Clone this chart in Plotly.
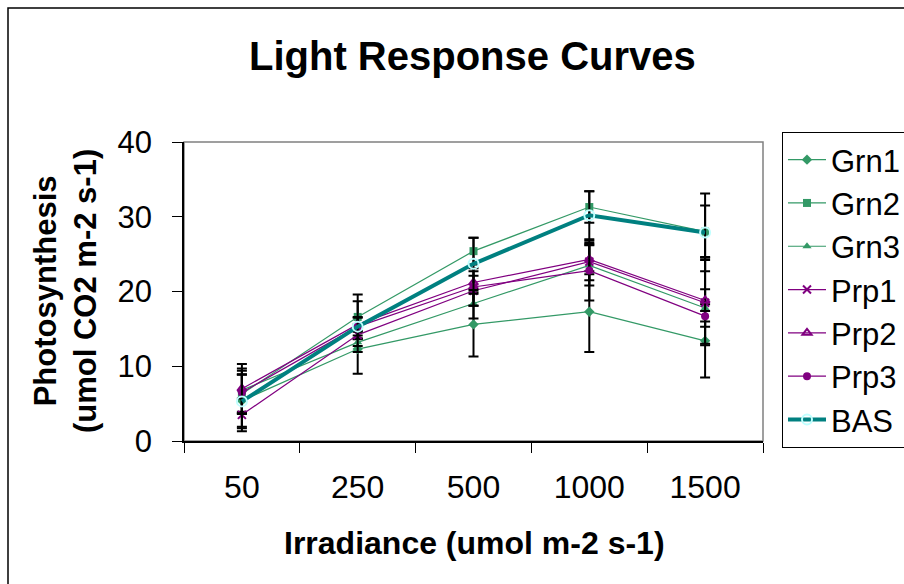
import plotly.graph_objects as go

categories = ["50", "250", "500", "1000", "1500"]

grn1 = [5.4, 12.3, 15.6, 17.3, 13.4]
grn2 = [6.3, 16.6, 25.4, 31.3, 28.0]
grn3 = [6.8, 13.2, 18.4, 23.5, 17.8]
prp1 = [3.5, 14.2, 20.1, 24.0, 18.5]
prp2 = [7.0, 15.6, 21.2, 24.3, 18.8]
prp3 = [6.5, 15.3, 20.6, 22.8, 16.7]
bas = [5.3, 15.3, 23.7, 30.2, 27.9]

grn1_err = [3.5, 3.3, 4.3, 5.4, 4.9]
grn2_err = [2.6, 3.0, 1.8, 2.1, 3.5]
grn3_err = [2.9, 0.5, 2.0, 2.7, 2.5]
prp1_err = [2.2, 0.5, 2.0, 2.5, 5.7]
prp2_err = [3.3, 1.0, 1.5, 2.0, 5.8]
prp3_err = [2.9, 1.2, 2.5, 4.0, 0.7]
bas_err = [3.6, 3.4, 3.5, 3.2, 5.2]

GREEN = "#339966"
PURPLE = "#800080"
TEAL = "#008080"
FONT = "Liberation Sans, Arial, sans-serif"

W, H = 904, 584
L, R, T, B = 184, 141, 142, 143
PW = W - L - R
PH = H - T - B


def px_x(p):
    return (p - L) / PW


def px_y(p):
    return (H - B - p) / PH


series = [
    ("Grn1", grn1, grn1_err, GREEN, 1.2, dict(symbol="diamond", size=8, color=GREEN)),
    ("Grn2", grn2, grn2_err, GREEN, 1.2, dict(symbol="square", size=8, color=GREEN)),
    ("Grn3", grn3, grn3_err, GREEN, 1.2, dict(symbol="triangle-up", size=8, color=GREEN)),
    ("Prp1", prp1, prp1_err, PURPLE, 1.2, dict(symbol="x-thin", size=8, color=PURPLE, line=dict(color=PURPLE, width=2))),
    ("Prp2", prp2, prp2_err, PURPLE, 1.2, dict(symbol="triangle-up-open", size=8, color=PURPLE, line=dict(color=PURPLE, width=2))),
    ("Prp3", prp3, prp3_err, PURPLE, 1.2, dict(symbol="circle", size=8, color=PURPLE)),
    ("BAS", bas, bas_err, TEAL, 4, dict(symbol="circle-open", size=10, color="#BFFFFF", line=dict(color="#BFFFFF", width=2))),
]

fig = go.Figure()
for i, (name, vals, errs, col, lw, mk) in enumerate(series):
    fig.add_trace(go.Scatter(
        x=categories, y=vals, name=name, mode="lines+markers",
        line=dict(color=col, width=lw),
        marker=mk,
        legendgroup=name,
        error_y=dict(type="data", array=errs, visible=True, color="black", thickness=2, width=5),
    ))

fig.update_layout(
    width=W, height=H,
    margin=dict(l=L, r=R, t=T, b=B, autoexpand=False),
    paper_bgcolor="white", plot_bgcolor="white",
    font=dict(family=FONT, color="black", size=30),
    showlegend=True,
    legend=dict(
        x=px_x(782), y=px_y(132), xanchor="left", yanchor="top",
        bordercolor="black", borderwidth=1, bgcolor="white",
        font=dict(family=FONT, size=31, color="black"),
        tracegroupgap=0, itemwidth=38, maxheight=560,
    ),
    xaxis=dict(
        type="category", showgrid=False, showline=True, linecolor="black", linewidth=1.5,
        ticks="outside", tickson="boundaries", ticklen=10, tickcolor="black",
        tickfont=dict(family=FONT, size=32), ticklabelstandoff=17,
        range=[-0.5, 4.5], fixedrange=True,
    ),
    yaxis=dict(
        range=[0, 40], dtick=10, showgrid=False, showline=True, linecolor="black", linewidth=1.5,
        ticks="outside", ticklen=10, tickcolor="black",
        tickfont=dict(family=FONT, size=31), ticklabelstandoff=14, zeroline=False,
    ),
    shapes=[
        dict(type="rect", xref="paper", yref="paper", x0=0, x1=1, y0=0, y1=1,
             line=dict(color="#808080", width=1.5), layer="below"),
        dict(type="rect", xref="paper", yref="paper",
             x0=px_x(8), x1=px_x(930), y0=px_y(610), y1=px_y(8),
             line=dict(color="black", width=1.5), layer="below"),
    ],
    annotations=[
        dict(text="<b>Light Response Curves</b>", xref="paper", yref="paper",
             x=px_x(472), y=px_y(56), xanchor="center", yanchor="middle",
             showarrow=False, font=dict(family=FONT, size=40)),
        dict(text="<b>Irradiance (umol m-2 s-1)</b>", xref="paper", yref="paper",
             x=px_x(474), y=px_y(543), xanchor="center", yanchor="middle",
             showarrow=False, font=dict(family=FONT, size=32)),
        dict(text="<b>Photosynthesis</b><br><b>(umol CO2 m-2 s-1)</b>", xref="paper", yref="paper",
             x=px_x(65), y=px_y(291), xanchor="center", yanchor="middle", textangle=-90,
             showarrow=False, font=dict(family=FONT, size=31)),
    ],
)

fig.write_html("out.html")
